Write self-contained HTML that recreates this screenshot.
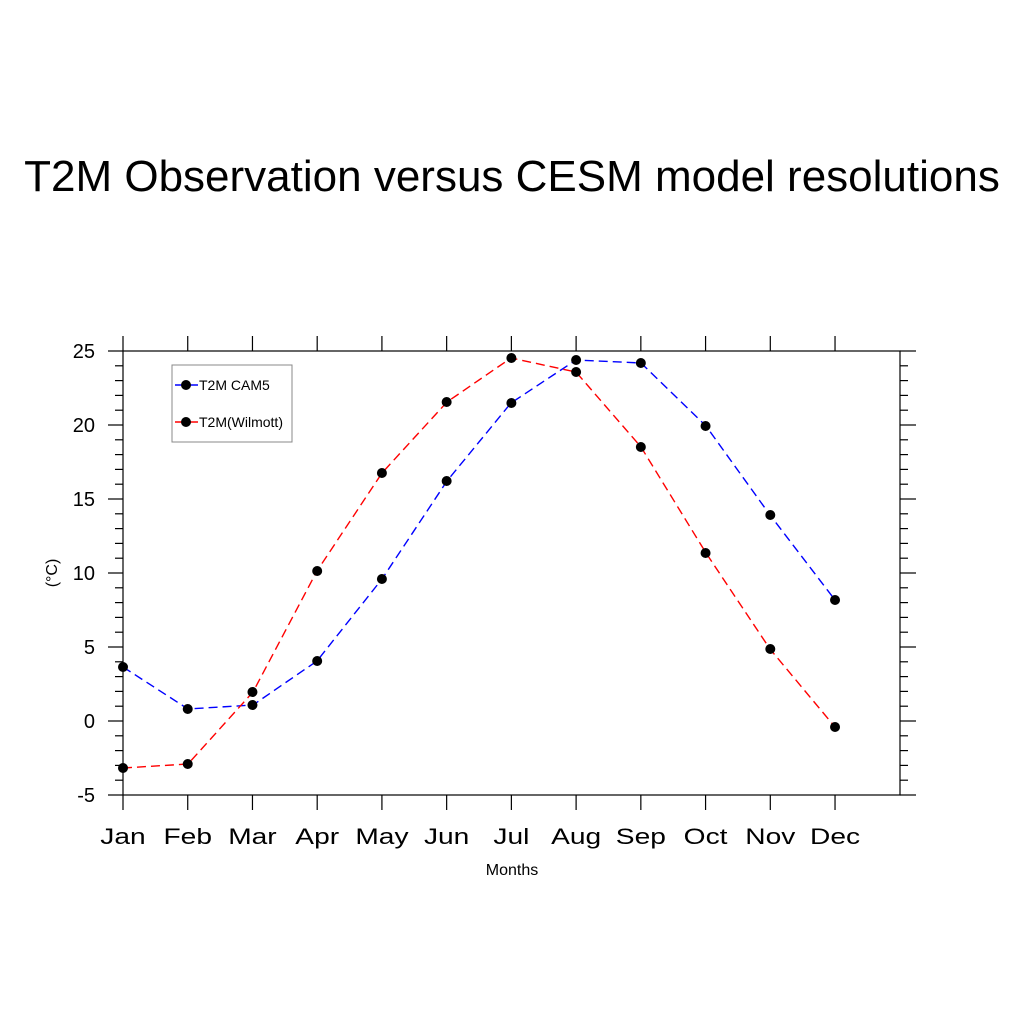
<!DOCTYPE html>
<html><head><style>body{margin:0;background:#fff}</style></head><body>
<svg width="1024" height="1024" xmlns="http://www.w3.org/2000/svg" font-family="Liberation Sans, sans-serif">
<rect width="1024" height="1024" fill="#fff"/>
<text x="512" y="191" font-size="44" text-anchor="middle">T2M Observation versus CESM model resolutions</text>
<g stroke="#000" stroke-width="1.2" fill="none">
<rect x="123" y="351" width="777" height="444"/>
</g>
<g id="ticks" stroke="#000" stroke-width="1.2"></g>
<g font-size="20" text-anchor="end" id="ylab"></g>
<g font-size="22" text-anchor="middle" id="xlab"></g>
<text x="512" y="875" font-size="16" text-anchor="middle">Months</text>
<text transform="translate(57,573) rotate(-90)" font-size="16" text-anchor="middle">(°C)</text>
<polyline fill="none" stroke="#0000ff" stroke-width="1.4" stroke-dasharray="9,5" points="123,667 188,709 253,705 317,661 382,579 447,481 511,403 576,360 641,363 706,426 770,515 835,600"/>
<polyline fill="none" stroke="#ff0000" stroke-width="1.4" stroke-dasharray="9,5" points="123,768 188,764 253,692 317,571 382,473 447,402 511,358 576,372 641,447 706,553 770,649 835,727"/>
<g id="dots"></g>
<rect x="172" y="365" width="120" height="77" fill="#fff" stroke="#888" stroke-width="1"/>
<line x1="175" y1="385" x2="198" y2="385" stroke="#0000ff" stroke-width="1.4"/>
<circle cx="186" cy="385" r="5"/>
<text x="199" y="390" font-size="14">T2M CAM5</text>
<line x1="175" y1="422" x2="198" y2="422" stroke="#ff0000" stroke-width="1.4"/>
<circle cx="186" cy="422" r="5"/>
<text x="199" y="427" font-size="14">T2M(Wilmott)</text>
</svg>
<script>
const NS="http://www.w3.org/2000/svg";
function el(p,t,a){const e=document.createElementNS(NS,t);for(const k in a)e.setAttribute(k,a[k]);document.getElementById(p).appendChild(e);return e;}
for(let v=-5;v<=25;v++){const y=795-(v+5)*14.8;const maj=v%5==0;
el("ticks","line",{x1:maj?108:115,y1:y,x2:123,y2:y});
el("ticks","line",{x1:900,y1:y,x2:maj?916:908,y2:y});
if(maj){const t=el("ylab","text",{x:95,y:y+7});t.textContent=v;}}
const m=["Jan","Feb","Mar","Apr","May","Jun","Jul","Aug","Sep","Oct","Nov","Dec"];
m.forEach((n,i)=>{const x=123+i*64.73;
el("ticks","line",{x1:x,y1:795,x2:x,y2:810});
el("ticks","line",{x1:x,y1:336,x2:x,y2:351});
const t=el("xlab","text",{transform:`translate(${x},844) scale(1.28,1)`});t.textContent=n;});
const b=[667,709,705,661,579,481,403,360,363,426,515,600],r=[768,764,692,571,473,402,358,372,447,553,649,727];
b.concat(r).forEach((y,i)=>el("dots","circle",{cx:123+(i%12)*64.73,cy:y,r:5}));
</script>
</body></html>
